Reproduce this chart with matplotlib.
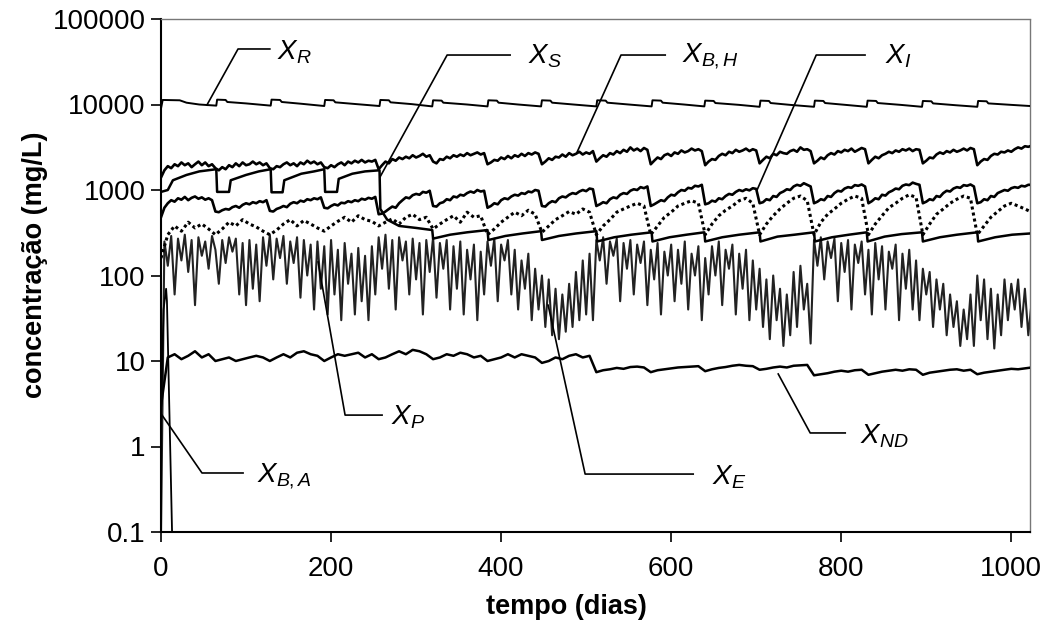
import numpy as np
import matplotlib
matplotlib.use('Agg')
import matplotlib.pyplot as plt

plt.rcParams['font.family'] = ['Liberation Sans', 'DejaVu Sans']
plt.rcParams['mathtext.fontset'] = 'custom'
plt.rcParams['mathtext.it'] = 'Liberation Sans:italic'
plt.rcParams['mathtext.rm'] = 'Liberation Sans'

# ---------------- data ----------------
days8 = np.arange(0, 1025, 8)   # 129 samples
days4 = np.arange(0, 1025, 4)   # 257 samples

xr_days = [0, 2, 22, 30, 45, 65,
           66, 76, 78, 100, 129,
           130, 140, 142, 165, 192,
           193, 203, 205, 230, 257,
           258, 268, 270, 295, 319,
           320, 330, 332, 360, 384,
           385, 395, 397, 420, 447,
           448, 458, 460, 485, 512,
           513, 523, 525, 550, 577,
           578, 588, 590, 615, 639,
           640, 650, 652, 680, 704,
           705, 715, 717, 740, 768,
           769, 779, 781, 805, 830,
           831, 841, 843, 870, 895,
           896, 906, 908, 935, 960,
           961, 971, 973, 1000, 1022]
xr_vals = [9000, 11300, 11200, 10500, 10000, 9700,
           11400, 11300, 10700, 10300, 9700,
           11400, 11300, 10700, 10200, 9600,
           11300, 11200, 10600, 10100, 9600,
           11300, 11200, 10600, 10100, 9500,
           11200, 11100, 10500, 10000, 9500,
           11200, 11100, 10500, 10000, 9500,
           11200, 11100, 10500, 10000, 9500,
           11200, 11100, 10500, 10000, 9500,
           11200, 11100, 10500, 10000, 9500,
           11100, 11000, 10400, 9900, 9400,
           11100, 11000, 10400, 9900, 9400,
           11100, 11000, 10400, 9900, 9400,
           11100, 11000, 10400, 9900, 9400,
           11000, 10900, 10300, 9800, 9400,
           11000, 10900, 10300, 9900, 9600]

xbh_vals = [1400, 1700, 1900, 1800, 2000, 1900, 2100, 1950, 2050, 1850, 2000, 2150, 1950, 2100, 1900, 2000,
            1800, 1700, 1850, 1750, 1950, 1850, 2050, 1900, 2100, 1950, 2000, 2150, 2000, 2100, 1950, 2050,
            1800, 1750, 1900, 1850, 2000, 2100, 1950, 2050, 1900, 2100, 2000, 2200, 2050, 2150, 2000, 2100,
            1850, 1800, 1950, 1850, 2000, 2100, 1950, 2150, 2050, 2200, 2100, 2250, 2100, 2200, 2150, 2250,
            1750, 1950, 2150, 2050, 2300, 2200, 2400, 2300, 2450, 2350, 2550, 2400, 2500, 2650, 2450, 2550,
            2150, 2050, 2300, 2250, 2450, 2350, 2550, 2450, 2600, 2500, 2700, 2550, 2650, 2750, 2600, 2700,
            2000, 2100, 2250, 2200, 2400, 2300, 2500, 2350, 2550, 2450, 2650, 2500, 2700, 2600, 2750, 2650,
            2000, 2150, 2350, 2250, 2450, 2400, 2600, 2450, 2700, 2550, 2650, 2800, 2600, 2750, 2650, 2850,
            2150, 2350, 2550, 2450, 2700, 2600, 2850, 2700, 2950, 2800, 3150, 2900, 3050, 2850, 3100, 2950,
            2000, 2200, 2400, 2300, 2550, 2650, 2500, 2750, 2650, 2900, 2750, 2850, 3050, 2900, 3000, 2850,
            1950, 2150, 2300, 2250, 2500, 2650, 2550, 2800, 2700, 2950, 2800, 2900, 3050, 2850, 3000, 2900,
            2050, 2250, 2450, 2350, 2650, 2550, 2800, 2700, 2650, 2850, 2950, 2800, 3150, 2950, 3000, 2850,
            2050, 2200, 2400, 2300, 2550, 2700, 2600, 2850, 2750, 2950, 2850, 3050, 2800, 2950, 3100, 3000,
            2050, 2250, 2450, 2350, 2550, 2650, 2800, 2700, 2900, 2800, 3000, 2900, 3050, 2850, 3000, 2950,
            2050, 2200, 2400, 2350, 2600, 2750, 2650, 2850, 2750, 2950, 2800, 2900, 3050, 2900, 3100, 3000,
            1950, 2150, 2300, 2250, 2500, 2650, 2600, 2800, 2750, 2900, 2800, 3000, 3150, 3050, 3250, 3200,
            3300]

xs_days = [0, 8, 14, 30, 45, 65, 66, 80, 82, 100, 115, 129,
           130, 143, 145, 165, 180, 192, 193, 207, 209, 225, 240, 257,
           258, 266, 280, 300, 319,
           320, 340, 360, 384,
           385, 405, 425, 447,
           448, 468, 488, 512,
           513, 533, 553, 577,
           578, 598, 618, 639,
           640, 660, 680, 704,
           705, 725, 745, 768,
           769, 789, 809, 830,
           831, 851, 871, 895,
           896, 916, 936, 960,
           961, 981, 1001, 1022]
xs_vals = [950, 1000, 1300, 1500, 1650, 1750, 950, 950, 1300, 1500, 1650, 1750,
           940, 940, 1300, 1550, 1650, 1750, 950, 950, 1350, 1550, 1650, 1700,
           600, 450, 380, 360, 340,
           270, 300, 320, 340,
           260, 290, 310, 330,
           260, 290, 310, 330,
           250, 280, 300, 320,
           250, 280, 300, 320,
           250, 280, 300, 320,
           250, 285, 300, 320,
           250, 280, 300, 320,
           250, 285, 305, 320,
           250, 280, 300, 320,
           250, 280, 300, 310]

xi_vals = [480, 620, 700, 760, 730, 800, 770, 830, 760, 810, 840, 790, 820, 770, 800, 760,
           560, 550, 580, 600, 590, 630, 650, 620, 670, 700, 680, 720, 700, 740, 720, 760,
           570, 560, 600, 620, 650, 630, 690, 720, 700, 750, 730, 780, 760, 800, 780, 820,
           620, 610, 650, 680, 660, 710, 700, 740, 720, 760, 740, 790, 770, 810, 790, 830,
           520, 530, 560, 600, 640, 620, 700, 760, 820, 800, 870, 900, 880, 950, 930, 980,
           650, 640, 700, 720, 780, 760, 840, 820, 880, 860, 920, 960, 930, 1000, 960, 980,
           620, 650, 700, 680, 760, 800, 780, 840, 880, 860, 920, 900, 960, 940, 1000, 980,
           650, 640, 700, 740, 720, 800, 840, 820, 880, 920, 900, 960, 1000, 970, 1040, 1020,
           650, 680, 720, 700, 780, 820, 800, 880, 920, 900, 980, 1020, 1000, 1080, 1050, 1100,
           650, 680, 720, 760, 740, 820, 880, 860, 940, 1000, 980, 1060, 1040, 1120, 1100, 1150,
           680, 700, 750, 730, 800, 780, 850, 900, 880, 950, 1000, 970, 1020, 990, 1050, 1030,
           700, 720, 780, 760, 850, 830, 920, 960, 1020, 1000, 1100, 1150, 1120, 1200, 1150, 1100,
           700, 730, 780, 760, 850, 830, 920, 980, 960, 1040, 1080, 1060, 1140, 1120, 1160, 1100,
           700, 740, 800, 780, 880, 860, 940, 980, 1040, 1020, 1120, 1160, 1140, 1220, 1180, 1150,
           700, 730, 780, 760, 850, 830, 920, 980, 960, 1040, 1080, 1060, 1140, 1120, 1160, 1100,
           700, 720, 780, 760, 850, 830, 920, 960, 1000, 980, 1050, 1080, 1060, 1120, 1100, 1150,
           1150]

xp_vals = [160, 300, 380, 330, 420, 360, 400, 350,
           300, 350, 420, 380, 450, 400, 370, 330,
           300, 340, 400, 450, 380, 440, 400, 360,
           330, 380, 430, 480, 420, 500, 450, 430,
           380, 420, 460, 400, 480, 520, 450, 480,
           350, 400, 450, 500, 420, 550, 480, 500,
           300, 350, 420, 480, 550, 500, 580, 520,
           320, 380, 450, 500, 560, 520, 600, 550,
           300, 380, 450, 550, 600, 650, 700, 650,
           300, 380, 480, 550, 650, 700, 750, 700,
           300, 400, 500, 580, 650, 750, 800, 700,
           300, 400, 500, 600, 700, 800, 850, 750,
           300, 420, 520, 600, 700, 780, 850, 800,
           300, 400, 500, 620, 700, 800, 880, 820,
           300, 400, 520, 600, 700, 780, 850, 800,
           300, 380, 480, 560, 650, 700, 650, 600, 550]

xe_vals = [0.1, 250, 130, 290, 60, 270, 150, 300, 110, 260, 45, 280, 170, 250, 120, 290,
           200, 80, 260, 140, 280, 190, 270, 60, 240, 45, 260, 70, 230, 50, 280, 130,
           300, 90, 270, 160, 290, 80, 250, 140, 280, 55, 260, 100, 230, 40, 250, 70,
           220, 35, 260, 60, 200, 30, 240, 80, 180, 35, 210, 50, 170, 30, 220, 60,
           280, 120, 300, 70, 260, 40, 280, 150, 250, 60, 270, 90, 240, 35, 260, 110,
           280, 55, 240, 120, 260, 40, 220, 70, 250, 35, 200, 90, 230, 30, 190, 60,
           250, 130, 270, 50, 230, 150, 260, 60, 200, 40, 150, 70, 180, 30, 120, 40,
           100, 25, 90, 20, 70, 18, 60, 22, 80, 25, 110, 30, 150, 35, 180, 30,
           260, 150, 280, 80, 250, 170, 270, 50, 240, 120, 260, 60, 230, 140, 250, 45,
           200, 90, 240, 35, 190, 100, 230, 50, 200, 80, 250, 40, 180, 100, 220, 30,
           160, 60, 220, 100, 250, 45, 200, 120, 230, 35, 180, 70, 200, 30, 150, 40,
           120, 25, 90, 18, 100, 30, 70, 15, 60, 20, 110, 25, 130, 40, 80, 16,
           260, 130, 280, 90, 250, 160, 270, 50, 240, 110, 260, 40, 230, 140, 250, 60,
           200, 35, 240, 90, 220, 40, 190, 120, 230, 30, 180, 70, 200, 40, 150, 30,
           120, 60, 110, 25, 90, 40, 80, 20, 60, 25, 50, 15, 40, 18, 60, 15,
           100, 30, 90, 18, 70, 14, 60, 20, 90, 30, 80, 40, 90, 25, 70, 20,
           50]

xnd_vals = [3, 11, 12, 10.5, 11.5, 13, 11, 12,
            10, 10.5, 11, 10, 10.5, 11, 11.5, 11,
            10, 11, 12, 11, 12.5, 13, 12, 11.5,
            10, 11, 12, 11.5, 12, 12.5, 11, 12,
            10.5, 11, 12, 13, 12, 13.5, 13, 12,
            10.5, 11, 12, 11.5, 12.5, 12, 11, 11.5,
            10, 10.5, 11, 12, 11, 12, 11.5, 11,
            9.5, 10, 11, 10.5, 11.5, 12, 11, 11.5,
            7.4, 7.8, 8.0, 8.3, 8.1, 8.5, 8.6, 8.4,
            7.4, 7.8, 8.0, 8.2, 8.4, 8.5, 8.6, 8.7,
            7.6, 8.0, 8.3, 8.5, 8.8, 9.0, 8.8, 8.7,
            7.9, 8.1, 8.4, 8.6, 8.4, 8.8, 8.9, 9.0,
            6.8, 7.0, 7.2, 7.5, 7.7, 7.5, 7.8, 7.9,
            6.9, 7.2, 7.5, 7.7, 7.9, 7.7, 8.0, 7.9,
            6.9, 7.3, 7.5, 7.7, 7.9, 8.0, 7.7, 7.9,
            7.0, 7.3, 7.5, 7.7, 7.9, 8.1, 8.0, 8.2, 8.4]

xba_days = [0, 3, 6, 7, 13, 14]
xba_vals = [2.4, 40, 70, 50, 0.1, 0.05]

y_ticks = [0.1, 1, 10, 100, 1000, 10000, 100000]
y_tick_labels = ['0.1', '1', '10', '100', '1000', '10000', '100000']
x_ticks = [0, 200, 400, 600, 800, 1000]

# annotation leaders: (label, [start, corner, end], text anchor)
labels = [
    (r'$X_{R}$',   [(54, 9860), (90.6, 44600), (128, 44600)],  (137, 41000)),
    (r'$X_{S}$',   [(257.6, 1420), (336.5, 37900), (410.6, 37900)], (432, 37000)),
    (r'$X_{B,H}$', [(489.4, 2780), (541, 37900), (593, 37900)], (613, 37000)),
    (r'$X_{I}$',   [(701, 1000), (770.6, 37900), (828, 37900)], (852, 37000)),
    (r'$X_{P}$',   [(184.7, 144), (216.5, 2.33), (260, 2.33)],   (270, 2.2)),
    (r'$X_{E}$',   [(455.3, 45), (498.8, 0.476), (625.9, 0.476)], (648, 0.44)),
    (r'$X_{ND}$',  [(725.9, 7.05), (763.5, 1.44), (804.7, 1.44)], (822, 1.33)),
    (r'$X_{B,A}$', [(1.2, 2.33), (48.2, 0.49), (96.5, 0.49)],   (113, 0.45)),
]

# ---------------- figure ----------------
fig = plt.figure(figsize=(10.46, 6.34), dpi=100)
ax = fig.add_axes([161/1046, 1 - 532/634, (1030 - 161)/1046, (532 - 19)/634])
ax.set_yscale('log')

ax.plot(days4, xe_vals, color='#222222', lw=1.5, zorder=2)
ax.plot(days8, xp_vals, color='black', lw=2.2, linestyle=(0, (1, 1)), zorder=3)
ax.plot(xs_days, xs_vals, color='black', lw=1.8, zorder=3)
ax.plot(days4, xi_vals, color='black', lw=1.9, zorder=3)
ax.plot(days4, xbh_vals, color='black', lw=1.9, zorder=3)
ax.plot(days8, xnd_vals, color='black', lw=1.8, zorder=3)
ax.plot(xr_days, xr_vals, color='black', lw=1.4, zorder=3)
ax.plot(xba_days, xba_vals, color='black', lw=1.3, zorder=3)

for txt, pts, tpos in labels:
    xs_, ys_ = zip(*pts)
    ax.plot(xs_, ys_, color='black', lw=1.2, zorder=4, clip_on=False)
    ax.text(tpos[0], tpos[1], txt, fontsize=20, ha='left', va='center', zorder=5)

ax.set_xlim(0, 1022)
ax.set_ylim(0.1, 100000)
ax.set_yticks(y_ticks)
ax.set_yticklabels(y_tick_labels)
ax.yaxis.set_minor_locator(matplotlib.ticker.NullLocator())
ax.set_xticks(x_ticks)
ax.set_xticklabels([str(v) for v in x_ticks])
ax.tick_params(axis='both', direction='out', length=7, width=1.2, labelsize=20)
ax.tick_params(axis='x', pad=10)
ax.tick_params(axis='y', pad=4)

for s in ['left', 'bottom']:
    ax.spines[s].set_linewidth(1.5)
    ax.spines[s].set_color('black')
for s in ['top', 'right']:
    ax.spines[s].set_linewidth(1.0)
    ax.spines[s].set_color('#777777')
    ax.spines[s].set_linestyle((0, (1.5, 1)))

ax.set_xlabel('tempo (dias)', fontsize=19.5, fontweight='bold')
ax.xaxis.set_label_coords(0.466, -0.12)
ax.set_ylabel('concentração (mg/L)', fontsize=19.5, fontweight='bold')
ax.yaxis.set_label_coords(-0.13, 0.52)

fig.savefig('out.png', dpi=100)
